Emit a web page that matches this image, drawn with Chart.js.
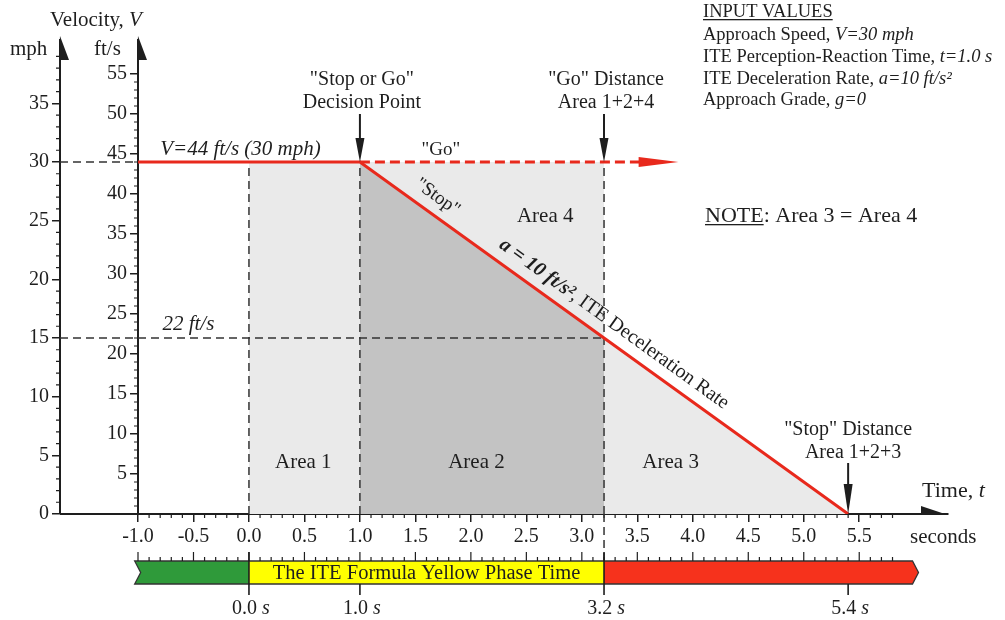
<!DOCTYPE html>
<html>
<head>
<meta charset="utf-8">
<script src="https://cdn.jsdelivr.net/npm/chart.js@4.4.1/dist/chart.umd.min.js"></script>
<style>
  html, body { margin: 0; padding: 0; background: #fff; }
  #wrap { width: 1005px; height: 620px; }
</style>
</head>
<body>
<div id="wrap"><canvas id="chart" width="1005" height="620"></canvas></div>
<script>
const FONT = '"Liberation Serif", "DejaVu Serif", serif';
const INK = '#1e1e1e';
const RED = '#e8291c';

// velocity path: approach at V, then ITE deceleration to a stop
const pathTime = [-1.0, 1.0, 3.2, 5.4];
const pathSpeed = [44, 44, 22, 0];
// "Go" continuation at constant speed
const goTime = [1.0, 3.53];
const goSpeed = [44, 44];
const goArrowTip = 3.87;
// shaded areas (ft/s)
const lightTime = [0.0, 3.2];
const lightSpeed = [44, 44];
const area2Time = [1.0, 3.2];
const area2Speed = [44, 22];
const area3Time = [3.2, 5.4];
const area3Speed = [22, 0];
// dashed reference lines
const guideTimes = [0.0, 1.0, 3.2];
const guideTop = 44;
const halfSpeed = 22;
const halfTimeRange = [-1.0, 3.2];
// timeline
const keyTimes = [0.0, 1.0, 3.2, 5.4];
const keyLabels = ['0.0', '1.0', '3.2', '5.4'];
const phaseStart = [-1.03, 0.0, 3.2];
const phaseEnd = [0.0, 3.2, 5.98];
const phaseColors = ['#2f9a3a', '#ffff00', '#f6321c'];

const FT_PER_MPH = 44 / 30;
const Y_MAX = 59.25;

const inputLines = [
  [['INPUT VALUES', 'u']],
  [['Approach Speed, ', ''], ['V=30 mph', 'i']],
  [['ITE Perception-Reaction Time, ', ''], ['t=1.0 s', 'i']],
  [['ITE Deceleration Rate, ', ''], ['a=10 ft/s²', 'i']],
  [['Approach Grade, ', ''], ['g=0', 'i']]
];

function fontOf(style, size) {
  return (style.includes('i') ? 'italic ' : '') + (style.includes('b') ? 'bold ' : '') + size + 'px ' + FONT;
}

function rich(ctx, parts, x, y, size, align) {
  let total = 0;
  const widths = parts.map(([t, s]) => {
    ctx.font = fontOf(s, size);
    const w = ctx.measureText(t).width;
    total += w;
    return w;
  });
  let cx = align === 'center' ? x - total / 2 : align === 'right' ? x - total : x;
  ctx.textAlign = 'left';
  ctx.textBaseline = 'alphabetic';
  parts.forEach(([t, s], i) => {
    ctx.font = fontOf(s, size);
    ctx.fillText(t, cx, y);
    if (s.includes('u')) ctx.fillRect(cx, y + 2, widths[i], 1.3);
    cx += widths[i];
  });
  return total;
}

function downArrow(ctx, x, yTop, yTip, headLen, halfW) {
  ctx.beginPath();
  ctx.lineWidth = 2;
  ctx.moveTo(x, yTop);
  ctx.lineTo(x, yTip - headLen + 2);
  ctx.stroke();
  ctx.beginPath();
  ctx.moveTo(x - halfW, yTip - headLen);
  ctx.lineTo(x + halfW, yTip - headLen);
  ctx.lineTo(x, yTip);
  ctx.closePath();
  ctx.fill();
}

const decor = {
  id: 'decor',
  beforeDraw(chart) {
    const ctx = chart.ctx;
    ctx.save();
    ctx.fillStyle = '#fff';
    ctx.fillRect(0, 0, chart.width, chart.height);
    ctx.restore();
  },
  afterDraw(chart) {
    const { ctx, chartArea: a, scales } = chart;
    const xs = scales.x, ys = scales.y, ms = scales.y2;
    const X = t => xs.getPixelForValue(t);
    const Y = v => ys.getPixelForValue(v);
    const M = v => ms.getPixelForValue(v);
    const mAxis = ms.right;
    ctx.save();
    ctx.strokeStyle = INK;
    ctx.fillStyle = INK;

    // minor ticks
    ctx.lineWidth = 1.2;
    ctx.beginPath();
    for (let i = 1; i <= 54; i++) {
      if (i % 5 === 0) continue;
      ctx.moveTo(a.left - 4, Y(i)); ctx.lineTo(a.left, Y(i));
    }
    for (let i = 1; i <= 39; i++) {
      if (i % 5 === 0) continue;
      ctx.moveTo(mAxis - 4, M(i)); ctx.lineTo(mAxis, M(i));
    }
    for (let i = -10; i <= 58; i++) {
      if (i % 5 === 0) continue;
      ctx.moveTo(X(i / 10), a.bottom); ctx.lineTo(X(i / 10), a.bottom + 4);
    }
    ctx.stroke();

    // x axis line between the two velocity axes, and axis arrows
    ctx.lineWidth = 2;
    ctx.beginPath();
    ctx.moveTo(mAxis, a.bottom); ctx.lineTo(a.left, a.bottom);
    ctx.moveTo(mAxis, a.top); ctx.lineTo(mAxis, a.top + 20);
    ctx.stroke();
    [mAxis, a.left].forEach(ax => {
      ctx.beginPath();
      ctx.moveTo(ax, a.top - 4);
      ctx.lineTo(ax + 9, a.top + 20);
      ctx.lineTo(ax - 1, a.top + 20);
      ctx.closePath();
      ctx.fill();
    });
    ctx.beginPath();
    ctx.moveTo(a.right, a.bottom + 1);
    ctx.lineTo(a.right - 27, a.bottom - 8);
    ctx.lineTo(a.right - 27, a.bottom + 1);
    ctx.closePath();
    ctx.fill();

    // dashed extensions of reference lines
    const barTop = a.bottom + 47, barBot = barTop + 23;
    ctx.setLineDash([8, 5]);
    ctx.lineWidth = 1.5;
    ctx.strokeStyle = '#333';
    ctx.beginPath();
    ctx.moveTo(mAxis, Y(guideTop)); ctx.lineTo(a.left, Y(guideTop));
    ctx.moveTo(mAxis, Y(halfSpeed)); ctx.lineTo(a.left, Y(halfSpeed));
    ctx.moveTo(X(3.2), a.bottom); ctx.lineTo(X(3.2), barTop);
    ctx.stroke();
    ctx.setLineDash([]);
    ctx.strokeStyle = INK;

    // red arrowhead at end of the "Go" line
    const goMeta = chart.getDatasetMeta(1);
    const goEnd = goMeta.data[goMeta.data.length - 1];
    ctx.fillStyle = RED;
    ctx.beginPath();
    ctx.moveTo(goEnd.x - 2, goEnd.y - 5);
    ctx.lineTo(X(goArrowTip), goEnd.y);
    ctx.lineTo(goEnd.x - 2, goEnd.y + 5);
    ctx.closePath();
    ctx.fill();
    ctx.fillStyle = INK;

    // decision / distance arrows
    downArrow(ctx, X(1.0), Y(44) - 48, Y(44), 24, 4.5);
    downArrow(ctx, X(3.2), Y(44) - 48, Y(44), 24, 4.5);
    downArrow(ctx, X(5.4), Y(0) - 51, Y(0), 30, 4.5);

    // labels
    rich(ctx, [['Velocity, ', ''], ['V', 'i']], 50, 26, 21);
    rich(ctx, [['mph', '']], 10, 55, 21);
    rich(ctx, [['ft/s', '']], 94, 55, 21);
    rich(ctx, [['Time, ', ''], ['t', 'i']], 922, 497, 22);
    rich(ctx, [['seconds', '']], 910, 543, 21);

    rich(ctx, [['"Stop or Go"', '']], X(1.0) + 2, 85, 20, 'center');
    rich(ctx, [['Decision Point', '']], X(1.0) + 2, 108, 20, 'center');
    rich(ctx, [['"Go" Distance', '']], X(3.2) + 2, 85, 20, 'center');
    rich(ctx, [['Area 1+2+4', '']], X(3.2) + 2, 108, 20, 'center');
    rich(ctx, [['"Stop" Distance', '']], X(5.4), 435, 20, 'center');
    rich(ctx, [['Area 1+2+3', '']], X(5.4) + 5, 458, 20, 'center');

    rich(ctx, [['V=44 ft/s (30 mph)', 'i']], X(-0.8), 155, 21);
    rich(ctx, [['22 ft/s', 'i']], X(-0.78), 330, 21);
    rich(ctx, [['"Go"', '']], X(1.73), 155, 19, 'center');
    rich(ctx, [['Area 4', '']], X(2.67), 222, 21, 'center');
    rich(ctx, [['Area 1', '']], X(0.49), 468, 21, 'center');
    rich(ctx, [['Area 2', '']], X(2.05), 468, 21, 'center');
    rich(ctx, [['Area 3', '']], X(3.8), 468, 21, 'center');

    // text along the deceleration line
    const p0x = X(1.0), p0y = Y(44), p1x = X(5.4), p1y = Y(0);
    const ang = Math.atan2(p1y - p0y, p1x - p0x);
    const along = (t, off) => {
      const px = X(t), py = Y(44 - 10 * (t - 1));
      return [px + Math.sin(ang) * off, py - Math.cos(ang) * off];
    };
    let [sx, sy] = along(1.61, 12);
    ctx.save();
    ctx.translate(sx, sy); ctx.rotate(ang);
    rich(ctx, [['"Stop"', '']], 0, 0, 19, 'center');
    ctx.restore();
    [sx, sy] = along(3.2, 12);
    ctx.save();
    ctx.translate(sx, sy); ctx.rotate(ang);
    rich(ctx, [['a = 10 ft/s²', 'bi'], [', ITE Deceleration Rate', '']], 0, 0, 20, 'center');
    ctx.restore();

    // input values and note
    const lineBase = [17, 40, 62, 83.5, 105];
    inputLines.forEach((parts, i) => rich(ctx, parts, 703, lineBase[i], 18.5));
    rich(ctx, [['NOTE', 'u'], [': Area 3 = Area 4', '']], 705, 222, 22);

    // timeline bar
    const mid = (barTop + barBot) / 2;
    phaseStart.forEach((s, i) => {
      ctx.fillStyle = phaseColors[i];
      ctx.beginPath();
      if (i === 0) {
        ctx.moveTo(X(s), barTop); ctx.lineTo(X(phaseEnd[i]), barTop);
        ctx.lineTo(X(phaseEnd[i]), barBot); ctx.lineTo(X(s), barBot);
        ctx.lineTo(X(s) + 6, mid);
      } else if (i === phaseStart.length - 1) {
        ctx.moveTo(X(s), barTop); ctx.lineTo(X(phaseEnd[i]), barTop);
        ctx.lineTo(X(phaseEnd[i]) + 6, mid); ctx.lineTo(X(phaseEnd[i]), barBot);
        ctx.lineTo(X(s), barBot);
      } else {
        ctx.rect(X(s), barTop, X(phaseEnd[i]) - X(s), barBot - barTop);
      }
      ctx.closePath();
      ctx.fill();
    });
    // outline
    const s0 = X(phaseStart[0]), e2 = X(phaseEnd[2]);
    ctx.strokeStyle = '#333';
    ctx.lineWidth = 1.3;
    ctx.beginPath();
    ctx.moveTo(s0, barTop); ctx.lineTo(e2, barTop); ctx.lineTo(e2 + 6, mid);
    ctx.lineTo(e2, barBot); ctx.lineTo(s0, barBot); ctx.lineTo(s0 + 6, mid);
    ctx.closePath();
    ctx.stroke();
    ctx.fillStyle = INK;
    rich(ctx, [['The ITE Formula Yellow Phase Time', '']], (X(0) + X(3.2)) / 2, barBot - 5, 20.5, 'center');

    // ticks above the bar
    ctx.strokeStyle = INK;
    ctx.lineWidth = 1.2;
    ctx.beginPath();
    for (let i = -10; i <= 58; i++) {
      const len = i % 5 === 0 ? 9 : 4;
      ctx.moveTo(X(i / 10), barTop); ctx.lineTo(X(i / 10), barTop - len);
    }
    ctx.stroke();
    // phase boundaries and key times
    ctx.lineWidth = 1.6;
    ctx.beginPath();
    [0.0, 3.2].forEach(t => { ctx.moveTo(X(t), barTop - 9); ctx.lineTo(X(t), barBot); });
    keyTimes.forEach(t => { ctx.moveTo(X(t), barBot); ctx.lineTo(X(t), barBot + 11); });
    ctx.stroke();
    keyTimes.forEach((t, i) => rich(ctx, [[keyLabels[i] + ' ', ''], ['s', 'i']], X(t) + 2, 614, 20, 'center'));

    ctx.restore();
  }
};

const pts = (xsArr, ysArr) => xsArr.map((x, i) => ({ x, y: ysArr[i] }));
const guideStyle = { borderColor: '#333', borderWidth: 1.5, borderDash: [8, 5], fill: false, pointRadius: 0 };
const fillStyle = c => ({ borderWidth: 0, borderColor: 'rgba(0,0,0,0)', backgroundColor: c, fill: 'origin', pointRadius: 0 });

const datasets = [
  { label: 'Velocity', data: pts(pathTime, pathSpeed), borderColor: RED, borderWidth: 3, fill: false, pointRadius: 0 },
  { label: 'Go', data: pts(goTime, goSpeed), borderColor: RED, borderWidth: 3, borderDash: [10, 5], fill: false, pointRadius: 0 },
  ...guideTimes.map(t => ({ label: 'guide', data: pts([t, t], [0, guideTop]), ...guideStyle })),
  { label: '22 ft/s', data: pts(halfTimeRange, [halfSpeed, halfSpeed]), ...guideStyle },
  { label: 'Area 2', data: pts(area2Time, area2Speed), ...fillStyle('#c3c3c3') },
  { label: 'Area 3', data: pts(area3Time, area3Speed), ...fillStyle('#eaeaea') },
  { label: 'Area 1+4', data: pts(lightTime, lightSpeed), ...fillStyle('#eaeaea') }
];

const tickFont = { family: FONT, size: 20 };
const hideAbove = lim => c => (c.tick && c.tick.value > lim ? 'rgba(0,0,0,0)' : INK);

new Chart(document.getElementById('chart'), {
  type: 'line',
  data: { datasets },
  options: {
    responsive: false,
    animation: false,
    layout: { padding: { left: 0, top: 40, right: 57, bottom: 0 } },
    plugins: { legend: { display: false }, tooltip: { enabled: false } },
    scales: {
      x: {
        type: 'linear', position: 'bottom', min: -1, max: 6.3,
        afterFit: s => { s.height = 106; },
        border: { display: true, color: INK, width: 2 },
        grid: { drawOnChartArea: false, tickLength: 8, lineWidth: 1.5, tickColor: hideAbove(5.55) },
        ticks: {
          stepSize: 0.5, autoSkip: false, maxRotation: 0, padding: 3, color: INK, font: tickFont,
          callback: v => { const r = Math.round(v * 10); return (r > 55 || r % 5) ? '' : (r / 10).toFixed(1); }
        }
      },
      y: {
        type: 'linear', position: 'left', min: 0, max: Y_MAX, weight: 0,
        afterFit: s => { s.width = 78; },
        border: { display: true, color: INK, width: 2 },
        grid: { drawOnChartArea: false, tickLength: 8, lineWidth: 1.5, tickColor: hideAbove(55.5) },
        ticks: {
          stepSize: 5, autoSkip: false, padding: 3, color: INK, font: tickFont,
          callback: v => (v === 0 || v > 55.5 || v % 5) ? '' : String(v)
        }
      },
      y2: {
        type: 'linear', position: 'left', min: 0, max: Y_MAX / FT_PER_MPH, weight: 1,
        afterFit: s => { s.width = 60; },
        border: { display: true, color: INK, width: 2 },
        grid: { drawOnChartArea: false, tickLength: 8, lineWidth: 1.5, tickColor: hideAbove(35.5) },
        ticks: {
          stepSize: 5, autoSkip: false, padding: 3, color: INK, font: tickFont,
          callback: v => (v > 35.5 || v % 5) ? '' : String(v)
        }
      }
    }
  },
  plugins: [decor]
});
</script>
</body>
</html>
